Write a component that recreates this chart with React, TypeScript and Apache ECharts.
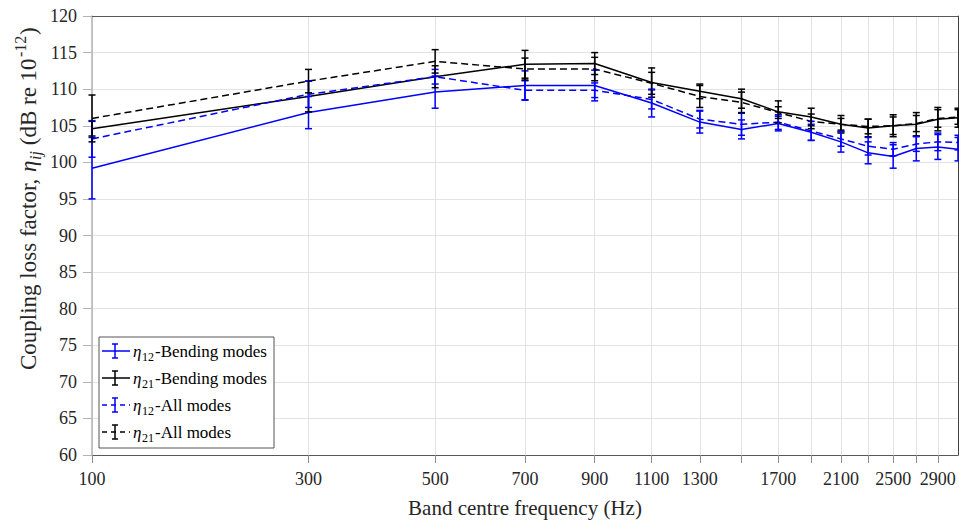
import React, { useEffect, useRef } from "react";
import * as echarts from "echarts";

const freqs = [100, 300, 500, 700, 900, 1100, 1300, 1500, 1700, 1900, 2100, 2300, 2500, 2700, 2900, 3100];
const tickFreqs = [100, 300, 500, 700, 900, 1100, 1300, 1500, 1700, 1900, 2100, 2300, 2500, 2700, 2900];
const labelFreqs = [100, 300, 500, 700, 900, 1100, 1300, 1700, 2100, 2500, 2900];

const eta12Bend = [99.2, 106.8, 109.6, 110.5, 110.5, 108.1, 105.5, 104.5, 105.3, 104.1, 102.8, 101.3, 100.8, 101.9, 102.1, 101.8];
const eta12BendErr = [4.2, 2.2, 2.2, 2.0, 2.1, 1.9, 1.5, 1.3, 1.0, 1.1, 1.4, 1.5, 1.6, 1.7, 1.7, 1.6];
const eta21Bend = [104.6, 109.0, 111.7, 113.4, 113.5, 110.9, 109.7, 108.7, 106.9, 106.2, 105.2, 104.7, 105.0, 105.2, 105.9, 106.1];
const eta21BendErr = [1.0, 2.1, 1.5, 1.9, 1.5, 2.0, 1.0, 1.3, 1.5, 1.2, 1.2, 1.2, 1.5, 1.6, 1.6, 1.3];
const eta12All = [103.2, 109.3, 111.7, 109.85, 109.85, 108.6, 105.9, 105.2, 105.5, 104.3, 103.2, 102.2, 101.8, 102.5, 102.8, 102.7];
const eta12AllErr = [2.5, 1.8, 1.0, 1.3, 1.0, 1.3, 1.2, 1.5, 1.0, 1.3, 1.0, 1.2, 0.9, 1.0, 1.2, 1.0];
const eta21All = [106.0, 111.1, 113.8, 112.75, 112.75, 110.8, 109.0, 108.2, 106.8, 105.6, 105.2, 104.9, 105.0, 105.3, 106.0, 106.2];
const eta21AllErr = [3.2, 1.6, 1.6, 1.5, 1.6, 1.5, 1.5, 1.4, 0.8, 1.0, 0.8, 1.0, 1.2, 1.1, 1.2, 1.0];

const BLUE = "#0000ff";
const BLACK = "#000000";
const FONT = "Liberation Serif";
const DASH = [7, 4];

const tx = (f: number) => Math.log10(f + 100);

function lineSeries(vals: number[], color: string, dashed: boolean) {
  return {
    type: "line",
    data: freqs.map((f, i) => [tx(f), vals[i]]),
    showSymbol: false,
    symbol: "none",
    lineStyle: { color, width: 1.5, type: dashed ? DASH : "solid" },
    z: 3,
  };
}

function errSeries(vals: number[], errs: number[], color: string) {
  return {
    type: "custom",
    data: freqs.map((f, i) => [tx(f), vals[i] - errs[i], vals[i] + errs[i]]),
    encode: { x: 0, y: [1, 2] },
    clip: false,
    z: 4,
    renderItem: (params: any, api: any) => {
      const x = api.value(0);
      const lo = api.coord([x, api.value(1)]);
      const hi = api.coord([x, api.value(2)]);
      const w = 3.5;
      const style = { stroke: color, lineWidth: 1.5 };
      return {
        type: "group",
        children: [
          { type: "line", shape: { x1: lo[0], y1: lo[1], x2: hi[0], y2: hi[1] }, style },
          { type: "line", shape: { x1: lo[0] - w, y1: lo[1], x2: lo[0] + w, y2: lo[1] }, style },
          { type: "line", shape: { x1: hi[0] - w, y1: hi[1], x2: hi[0] + w, y2: hi[1] }, style },
        ],
      };
    },
  };
}

const legendRows = [
  { color: BLUE, dashed: false, sub: "12", text: "-Bending modes", y: 351 },
  { color: BLACK, dashed: false, sub: "21", text: "-Bending modes", y: 378 },
  { color: BLUE, dashed: true, sub: "12", text: "-All modes", y: 405 },
  { color: BLACK, dashed: true, sub: "21", text: "-All modes", y: 432 },
];

function legendGraphics() {
  const out: any[] = [
    {
      type: "rect",
      shape: { x: 99, y: 337, width: 175, height: 111 },
      style: { fill: "#ffffff", stroke: "#555555", lineWidth: 1 },
      z: 10,
    },
  ];
  legendRows.forEach((r) => {
    const ls = { stroke: r.color, lineWidth: 1.5, lineDash: r.dashed ? [5, 4] : null };
    const es = { stroke: r.color, lineWidth: 1.5 };
    out.push({ type: "line", shape: { x1: 102, y1: r.y, x2: 130, y2: r.y }, style: ls, z: 11 });
    out.push({ type: "line", shape: { x1: 115, y1: r.y - 7, x2: 115, y2: r.y + 7 }, style: es, z: 11 });
    out.push({ type: "line", shape: { x1: 112, y1: r.y - 7, x2: 118, y2: r.y - 7 }, style: es, z: 11 });
    out.push({ type: "line", shape: { x1: 112, y1: r.y + 7, x2: 118, y2: r.y + 7 }, style: es, z: 11 });
    out.push({
      type: "text", x: 133, y: r.y, z: 11,
      style: { text: "η", fontFamily: FONT, fontStyle: "italic", fontSize: 17, fill: "#000", verticalAlign: "middle", align: "left" },
    });
    out.push({
      type: "text", x: 142, y: r.y + 6, z: 11,
      style: { text: r.sub, fontFamily: FONT, fontSize: 12, fill: "#000", verticalAlign: "middle", align: "left" },
    });
    out.push({
      type: "text", x: 155, y: r.y, z: 11,
      style: { text: r.text, fontFamily: FONT, fontSize: 17, fill: "#000", verticalAlign: "middle", align: "left" },
    });
  });
  return out;
}

function yLabelGraphic() {
  const fs = 23;
  const sfs = 16;
  const base = { fontFamily: FONT, fill: "#262626", verticalAlign: "middle", align: "left" };
  return {
    type: "group",
    x: 28,
    y: 370,
    rotation: Math.PI / 2,
    children: [
      { type: "text", x: 0, y: 0, style: { ...base, text: "Coupling loss factor, ", fontSize: fs } },
      { type: "text", x: 198, y: 0, style: { ...base, text: "η", fontSize: fs, fontStyle: "italic" } },
      { type: "text", x: 210, y: 7, style: { ...base, text: "ij", fontSize: sfs, fontStyle: "italic" } },
      { type: "text", x: 219, y: 0, style: { ...base, text: " (dB re 10", fontSize: fs } },
      { type: "text", x: 313, y: -8, style: { ...base, text: "-12", fontSize: sfs } },
      { type: "text", x: 335, y: 0, style: { ...base, text: ")", fontSize: fs } },
    ],
  };
}

export default function App() {
  const ref = useRef<HTMLDivElement>(null);
  useEffect(() => {
    if (!ref.current) return;
    const chart = echarts.init(ref.current, undefined, { renderer: "svg" });
    const xMin = tx(100);
    const xMax = tx(3100);
    chart.setOption({
      animation: false,
      backgroundColor: "#ffffff",
      grid: { left: 92, right: 1, top: 16, bottom: 66, containLabel: false },
      xAxis: [
        {
          type: "value",
          min: xMin,
          max: xMax,
          axisLine: { show: true, lineStyle: { color: "#595959", width: 1 } },
          axisTick: {
            show: true,
            inside: false,
            length: 8,
            customValues: tickFreqs.map(tx),
            lineStyle: { color: "#8c8c8c" },
          },
          axisLabel: {
            customValues: labelFreqs.map(tx),
            formatter: (v: number) => String(Math.round(Math.pow(10, v) - 100)),
            fontFamily: FONT,
            fontSize: 18,
            color: "#262626",
            margin: 15,
          },
          splitLine: { show: true, lineStyle: { color: "#e3e3e3", width: 1 } },
          name: "Band centre frequency (Hz)",
          nameLocation: "middle",
          nameGap: 42,
          nameTextStyle: { fontFamily: FONT, fontSize: 21, color: "#262626" },
        },
        {
          type: "value",
          position: "top",
          min: xMin,
          max: xMax,
          axisLine: { show: true, lineStyle: { color: "#595959", width: 1 } },
          axisTick: { show: false },
          axisLabel: { show: false },
          splitLine: { show: false },
        },
      ],
      yAxis: [
        {
          type: "value",
          min: 60,
          max: 120,
          interval: 5,
          axisLine: { show: true, lineStyle: { color: "#b3b3b3", width: 1.5 } },
          axisTick: { show: true, inside: false, length: 9, lineStyle: { color: "#b3b3b3" } },
          axisLabel: { fontFamily: FONT, fontSize: 18, color: "#262626", margin: 15 },
          splitLine: { show: true, lineStyle: { color: "#e3e3e3", width: 1 } },
        },
        {
          type: "value",
          position: "right",
          min: 60,
          max: 120,
          interval: 5,
          axisLine: { show: true, lineStyle: { color: "#404040", width: 1 } },
          axisTick: { show: false },
          axisLabel: { show: false },
          splitLine: { show: false },
        },
      ],
      series: [
        lineSeries(eta12Bend, BLUE, false),
        errSeries(eta12Bend, eta12BendErr, BLUE),
        lineSeries(eta21Bend, BLACK, false),
        errSeries(eta21Bend, eta21BendErr, BLACK),
        lineSeries(eta12All, BLUE, true),
        errSeries(eta12All, eta12AllErr, BLUE),
        lineSeries(eta21All, BLACK, true),
        errSeries(eta21All, eta21AllErr, BLACK),
      ],
      graphic: [...legendGraphics(), yLabelGraphic()],
    });
    return () => chart.dispose();
  }, []);
  return (
    <div
      ref={ref}
      style={{ position: "fixed", left: 0, top: 0, width: 959, height: 523, background: "#fff" }}
    />
  );
}
